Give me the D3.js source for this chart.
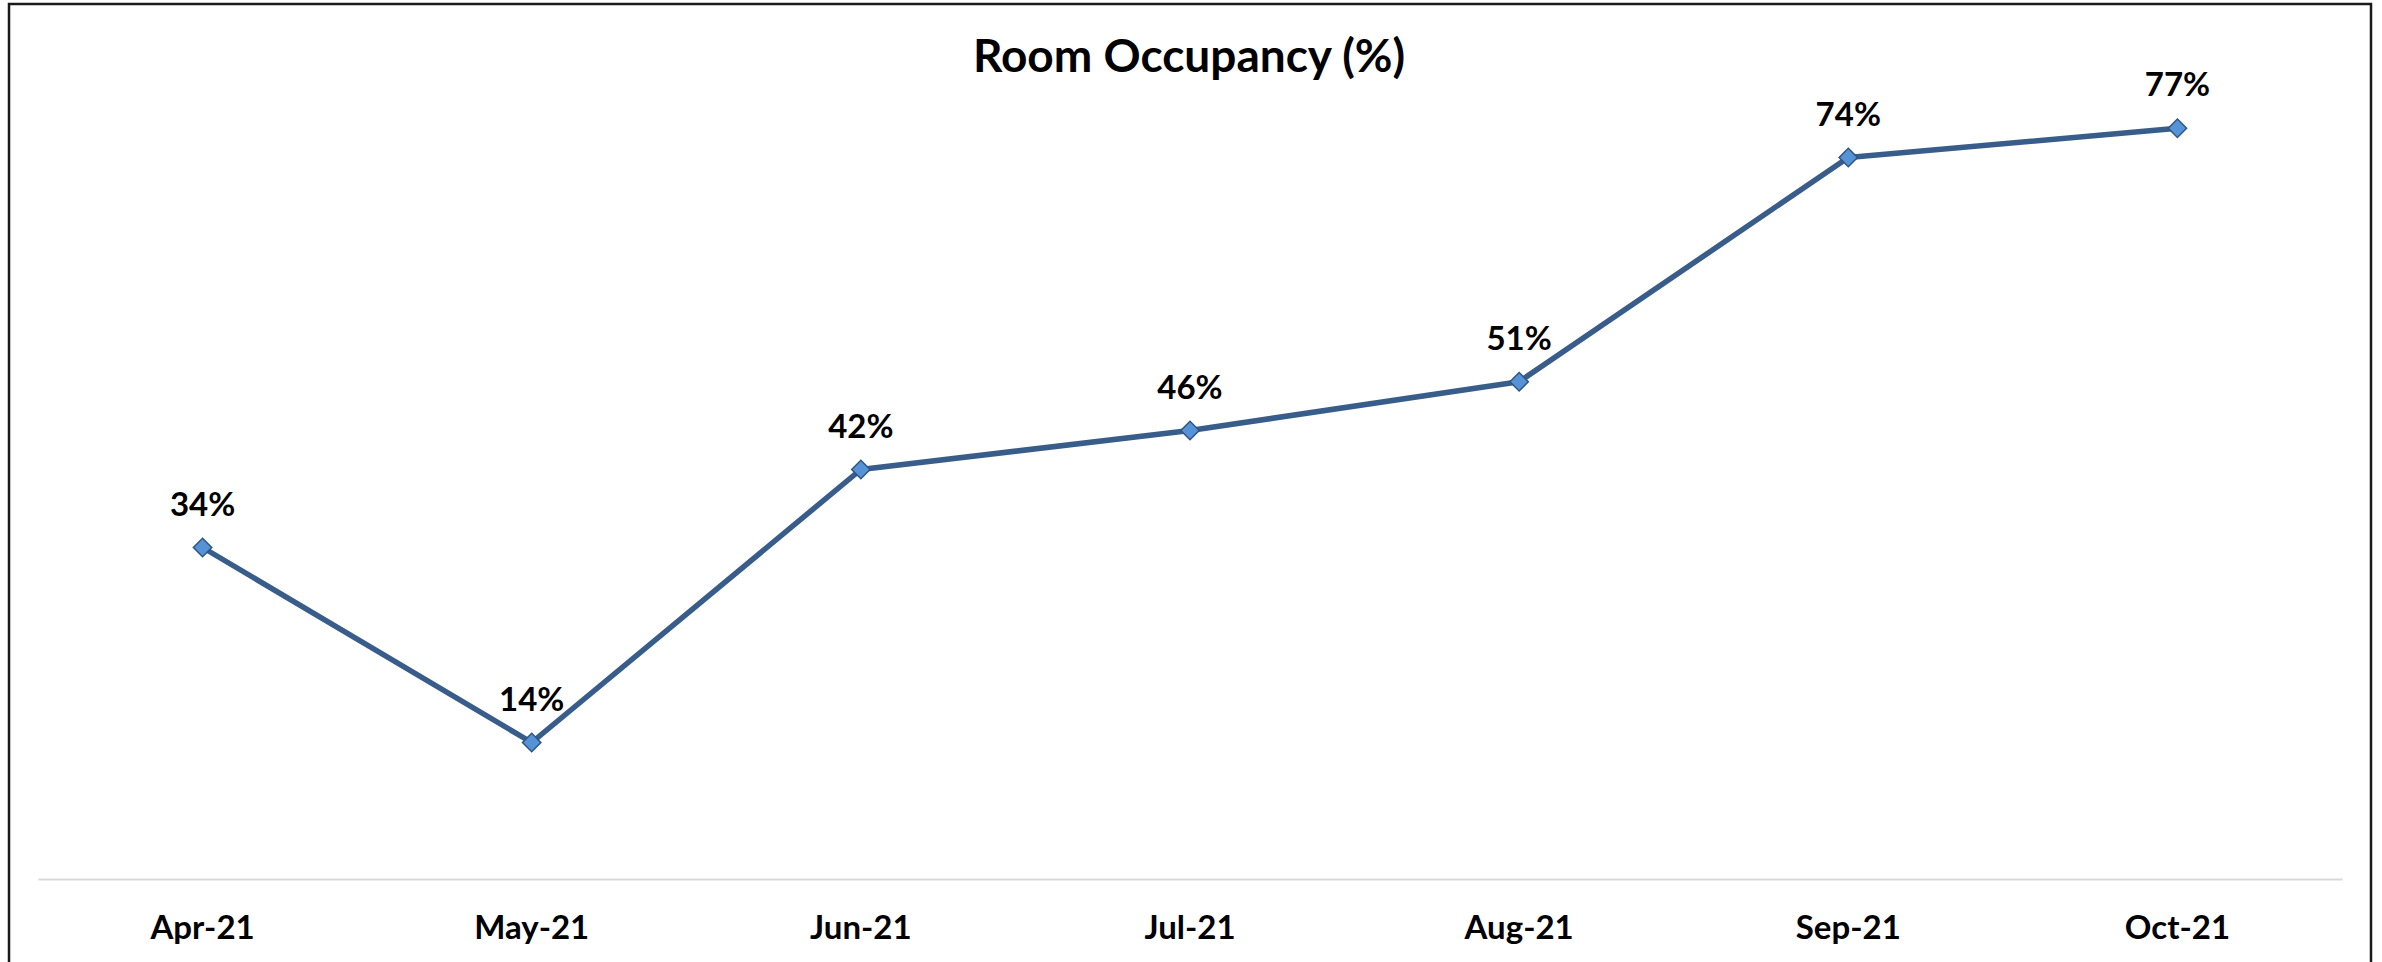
<!DOCTYPE html>
<html>
<head>
<meta charset="utf-8">
<script src="https://cdn.jsdelivr.net/npm/d3@7"></script>
<style>
  html, body { margin: 0; padding: 0; background: #fff; }
  svg { display: block; }
</style>
</head>
<body>
<div id="chart"></div>
<script>
const months = ["Apr-21", "May-21", "Jun-21", "Jul-21", "Aug-21", "Sep-21", "Oct-21"];
const occupancy = [34, 14, 42, 46, 51, 74, 77];
const title = "Room Occupancy (%)";

const W = 2382, H = 962;
const svg = d3.select("#chart").append("svg")
  .attr("width", W).attr("height", H);

// chart frame (runs off the bottom edge like the original)
svg.append("rect")
  .attr("x", 9).attr("y", 4)
  .attr("width", 2362).attr("height", H + 20)
  .attr("fill", "none")
  .attr("stroke", "#1a1a1a")
  .attr("stroke-width", 2.5);

const x = d3.scaleBand().domain(months).range([38, 2342]).padding(0);
const y = d3.scaleLinear().domain([0, 90]).range([879, 1.5]);
const cx = d => x(d) + x.bandwidth() / 2;

svg.append("text")
  .attr("x", 1189).attr("y", 72)
  .attr("text-anchor", "middle")
  .attr("font-family", "Lato, 'Open Sans', sans-serif")
  .attr("font-weight", 700)
  .attr("font-size", 46)
  .attr("fill", "#000")
  .text(title);

// category axis
const axis = svg.append("g")
  .attr("transform", `translate(0,${y(0)})`)
  .call(d3.axisBottom(x).tickSize(0).tickPadding(37));
axis.select(".domain").attr("stroke", "#d9d9d9").attr("stroke-width", 2);
axis.selectAll("text")
  .attr("font-family", "Lato, 'Open Sans', sans-serif")
  .attr("font-weight", 700)
  .attr("font-size", 33)
  .attr("fill", "#000");

const data = months.map((m, i) => ({ m, v: occupancy[i] }));

svg.append("path")
  .datum(data)
  .attr("fill", "none")
  .attr("stroke", "#385d8a")
  .attr("stroke-width", 5.5)
  .attr("stroke-linejoin", "round")
  .attr("d", d3.line().x(d => cx(d.m)).y(d => y(d.v)));

// diamond markers
svg.append("g").selectAll("path")
  .data(data)
  .enter().append("path")
  .attr("transform", d => `translate(${cx(d.m)},${y(d.v)}) rotate(45)`)
  .attr("d", "M-6.5,-6.5h13v13h-13z")
  .attr("fill", "#5592d6")
  .attr("stroke", "#2f5583")
  .attr("stroke-width", 1.5);

// data labels
svg.append("g").selectAll("text")
  .data(data)
  .enter().append("text")
  .attr("x", d => cx(d.m))
  .attr("y", d => y(d.v) - 32)
  .attr("text-anchor", "middle")
  .attr("font-family", "Lato, 'Open Sans', sans-serif")
  .attr("font-weight", 700)
  .attr("font-size", 33)
  .attr("fill", "#000")
  .text(d => d.v + "%");
</script>
</body>
</html>
